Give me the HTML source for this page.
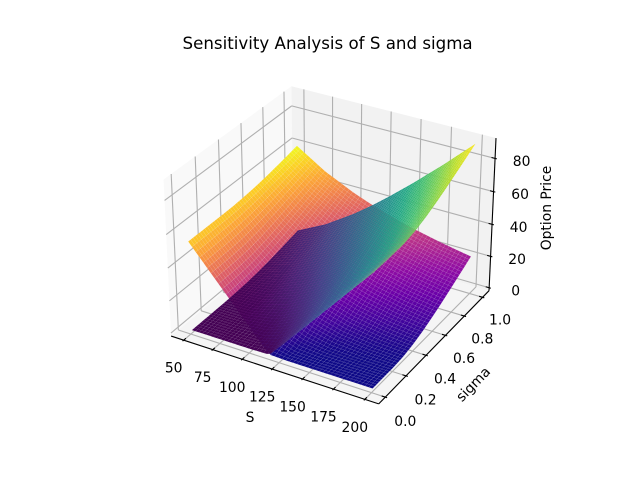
<!DOCTYPE html>
<html>
<head>
<meta charset="utf-8">
<style>
html,body{margin:0;padding:0;background:#fff;}
svg{display:block;}
text{font-family:"DejaVu Sans","Liberation Sans",sans-serif;fill:#000;}
</style>
</head>
<body>
<svg id="chart" xmlns="http://www.w3.org/2000/svg" width="640" height="480" viewBox="0 0 640 480">
<rect x="0" y="0" width="640" height="480" fill="#fff"/>
<g id="panes"></g>
<g id="grid"></g>
<g id="axes"></g>
<g id="put"></g>
<g id="call"></g>
<g id="labels"></g>
<text x="327.6" y="49" font-size="16.67" text-anchor="middle">Sensitivity Analysis of S and sigma</text>
<text x="250" y="422" font-size="13.89" text-anchor="middle">S</text>
<text x="473" y="389" font-size="13.89" text-anchor="middle" transform="rotate(-46 473 384)">sigma</text>
<text x="551" y="208" font-size="13.89" text-anchor="middle" transform="rotate(-90 551 208)">Option Price</text>
</svg>
<script>
const sValues = [50, 75, 100, 116, 130, 150, 175, 200];
const sigmaValues = [0.01, 0.1, 0.2, 0.3, 0.4, 0.5, 0.6, 0.7, 0.8, 0.9, 1.0];
const callValues = [
  [0, 0, 0, 0.3, 11.3, 27.7, 48.2, 68.6],
  [0, 0, 0.3, 3.7, 12.0, 27.7, 48.2, 68.6],
  [0, 0.1, 2.3, 7.5, 14.9, 28.7, 48.3, 68.7],
  [0, 0.7, 5.2, 11.3, 18.5, 31.2, 49.5, 69.1],
  [0.2, 2.1, 8.4, 15.0, 22.2, 34.5, 51.8, 70.6],
  [0.6, 3.9, 11.6, 18.7, 26.0, 38.0, 54.8, 72.9],
  [1.3, 6.1, 14.9, 22.3, 29.8, 41.8, 58.2, 75.9],
  [2.3, 8.4, 18.1, 25.9, 33.6, 45.5, 61.8, 79.2],
  [3.6, 10.8, 21.3, 29.5, 37.3, 49.3, 65.5, 82.8],
  [5.0, 13.2, 24.5, 32.9, 40.9, 53.1, 69.3, 86.5],
  [6.5, 15.7, 27.6, 36.3, 44.5, 56.8, 73.1, 90.2]
];
const putValues = [
  [54.2, 33.7, 13.3, 0.4, 0, 0, 0, 0],
  [54.2, 33.7, 13.5, 3.9, 0.7, 0, 0, 0],
  [54.2, 33.8, 15.6, 7.7, 3.6, 1.0, 0.2, 0],
  [54.2, 34.4, 18.5, 11.5, 7.2, 3.5, 1.4, 0.5],
  [54.3, 35.8, 21.7, 15.2, 10.9, 6.8, 3.7, 2.0],
  [54.8, 37.6, 24.9, 18.9, 14.7, 10.3, 6.7, 4.3],
  [55.5, 39.8, 28.2, 22.5, 18.5, 14.1, 10.1, 7.3],
  [56.5, 42.1, 31.4, 26.1, 22.3, 17.8, 13.7, 10.6],
  [57.8, 44.5, 34.6, 29.7, 26.0, 21.6, 17.4, 14.2],
  [59.2, 46.9, 37.8, 33.0, 29.6, 25.4, 21.2, 17.9],
  [60.7, 49.4, 40.9, 36.5, 33.2, 29.1, 25.0, 21.6]
];
const sTicks = [50, 75, 100, 125, 150, 175, 200];
const sigmaTicks = [0, 0.2, 0.4, 0.6, 0.8, 1.0];
const sigmaTickLabels = ['0.0', '0.2', '0.4', '0.6', '0.8', '1.0'];
const zTicks = [0, 20, 40, 60, 80];
const viridisStops = ['#440154','#482475','#414487','#355f8d','#2a788e','#21918c','#22a884','#44bf70','#7ad151','#bddf26','#fde725'];
const plasmaStops = ['#0d0887','#41049d','#6a00a8','#8f0da4','#b12a90','#cc4778','#e16462','#f2844b','#fca636','#fcce25','#f0f921'];

const NS = 'http://www.w3.org/2000/svg';
const MESH = 49;

function extent(a){
  return [Math.min.apply(null, a), Math.max.apply(null, a)];
}
function paddedLimits(lo, hi, margin){
  const d = (hi - lo) * margin;
  const a = lo - d, b = hi + d;
  const v = (b - a) / 48;
  return [a - v, b + v];
}
const sExt = extent(sValues);
const sigExt = extent(sigmaValues);
const zAll = extent([].concat.apply([], callValues.concat(putValues)));
const xLim = paddedLimits(sExt[0], sExt[1], 0.05);
const yLim = paddedLimits(sigExt[0], sigExt[1], 0.05);
const zLim = paddedLimits(zAll[0], zAll[1], 0);

function xNorm(v){ return (v - xLim[0]) / (xLim[1] - xLim[0]); }
function yNorm(v){ return (v - yLim[0]) / (yLim[1] - yLim[0]); }
function zNorm(v){ return (v - zLim[0]) / (zLim[1] - zLim[0]); }

const BOX = [1.19053, 1.19053, 0.89290];
const U = [0.866025, 0.5, 0];
const V = [-0.25, 0.433013, 0.866025];
const W = [0.433013, -0.75, 0.5];
const DIST = 10;
const PX_SCALE = 369.6 / 0.185;

function project(a, b, c){
  const d = [(a - 0.5) * BOX[0], (b - 0.5) * BOX[1], (c - 0.5) * BOX[2]];
  const xv = U[0]*d[0] + U[1]*d[1] + U[2]*d[2];
  const yv = V[0]*d[0] + V[1]*d[1] + V[2]*d[2];
  const wd = W[0]*d[0] + W[1]*d[1] + W[2]*d[2];
  const f = DIST - wd;
  return {
    x: 143.2 + (xv / f + 0.095) * PX_SCALE,
    y: 427.2 - (yv / f + 0.095) * PX_SCALE,
    depth: wd
  };
}

function line(parent, p, q, color, width, name){
  const el = document.createElementNS(NS, 'line');
  el.setAttribute('x1', p.x.toFixed(2));
  el.setAttribute('y1', p.y.toFixed(2));
  el.setAttribute('x2', q.x.toFixed(2));
  el.setAttribute('y2', q.y.toFixed(2));
  el.setAttribute('stroke', color);
  el.setAttribute('stroke-width', width);
  
  
  parent.appendChild(el);
}
function polyPath(pts){
  return 'M' + pts.map(function(p){ return p.x.toFixed(2) + ' ' + p.y.toFixed(2); }).join('L') + 'Z';
}

/* panes */
const panes = document.getElementById('panes');
const paneDefs = [
  ['left-wall-pane', '#f9f9f9', [[0,0,0],[0,1,0],[0,1,1],[0,0,1]]],
  ['back-wall-pane', '#f2f2f2', [[0,1,0],[1,1,0],[1,1,1],[0,1,1]]],
  ['floor-pane', '#f5f5f5', [[0,0,0],[1,0,0],[1,1,0],[0,1,0]]]
];
paneDefs.forEach(function(def){
  const el = document.createElementNS(NS, 'path');
  el.setAttribute('d', polyPath(def[2].map(function(c){ return project(c[0], c[1], c[2]); })));
  el.setAttribute('fill', def[1]);
  
  
  panes.appendChild(el);
});

/* grid */
const grid = document.getElementById('grid');
const GRID_COLOR = '#b0b0b0';
sTicks.forEach(function(t){
  const a = xNorm(t);
  line(grid, project(a,0,0), project(a,1,0), GRID_COLOR, 1.11, 'x-gridline-floor');
  line(grid, project(a,1,0), project(a,1,1), GRID_COLOR, 1.11, 'x-gridline-wall');
});
sigmaTicks.forEach(function(t){
  const b = yNorm(t);
  line(grid, project(1,b,0), project(0,b,0), GRID_COLOR, 1.11, 'y-gridline-floor');
  line(grid, project(0,b,0), project(0,b,1), GRID_COLOR, 1.11, 'y-gridline-wall');
});
zTicks.forEach(function(t){
  const c = zNorm(t);
  line(grid, project(0,0,c), project(0,1,c), GRID_COLOR, 1.11, 'z-gridline-left');
  line(grid, project(0,1,c), project(1,1,c), GRID_COLOR, 1.11, 'z-gridline-back');
});

/* axes and ticks */
const axes = document.getElementById('axes');
line(axes, project(0,0,0), project(1,0,0), '#000', 1.11, 'x-axis-line');
line(axes, project(1,0,0), project(1,1,0), '#000', 1.11, 'y-axis-line');
line(axes, project(1,1,0), project(1,1,1), '#000', 1.11, 'z-axis-line');
const T_IN = 0.2 / 12, T_OUT = 0.1 / 12;

const labels = document.getElementById('labels');
function label(x, y, str, name){
  const el = document.createElementNS(NS, 'text');
  el.setAttribute('x', x.toFixed(1));
  el.setAttribute('y', (y + 5).toFixed(1));
  el.setAttribute('font-size', '13.89');
  el.setAttribute('text-anchor', 'middle');
  
  
  el.textContent = str;
  labels.appendChild(el);
}
sTicks.forEach(function(t){
  const a = xNorm(t);
  line(axes, project(a,-T_OUT,0), project(a,T_IN,0), '#000', 1.11, 'x-tick');
  const p = project(a,0,0);
  label(p.x - 10, p.y + 27.5, String(t), 'x-tick-label');
});
sigmaTicks.forEach(function(t, i){
  const b = yNorm(t);
  line(axes, project(1-T_IN,b,0), project(1+T_OUT,b,0), '#000', 1.11, 'y-tick');
  const p = project(1,b,0);
  label(p.x + 20 - 2.5 * t, p.y + 24 - 2 * t, sigmaTickLabels[i], 'y-tick-label');
});
zTicks.forEach(function(t){
  const c = zNorm(t);
  line(axes, project(1-T_IN,1,c), project(1+T_OUT,1,c), '#000', 1.11, 'z-tick');
  const p = project(1,1,c);
  label(p.x + 26.5, p.y + 2.5, String(t), 'z-tick-label');
});

/* surfaces */
function hexToRgb(h){
  return [parseInt(h.substr(1,2),16), parseInt(h.substr(3,2),16), parseInt(h.substr(5,2),16)];
}
function cmapColor(stops, t){
  t = Math.max(0, Math.min(1, t));
  const f = t * (stops.length - 1);
  const i = Math.min(stops.length - 2, Math.floor(f));
  const u = f - i;
  const c0 = hexToRgb(stops[i]), c1 = hexToRgb(stops[i+1]);
  return 'rgb(' + Math.round(c0[0] + (c1[0]-c0[0])*u) + ',' +
                  Math.round(c0[1] + (c1[1]-c0[1])*u) + ',' +
                  Math.round(c0[2] + (c1[2]-c0[2])*u) + ')';
}
function bracket(axis, v){
  let i = 0;
  while (i < axis.length - 2 && v > axis[i+1]) i++;
  return [i, (v - axis[i]) / (axis[i+1] - axis[i])];
}
function sampleTable(table, s, sig){
  const bs = bracket(sValues, s), bg = bracket(sigmaValues, sig);
  const r0 = table[bg[0]], r1 = table[bg[0]+1];
  const top = r0[bs[0]] + (r0[bs[0]+1] - r0[bs[0]]) * bs[1];
  const bot = r1[bs[0]] + (r1[bs[0]+1] - r1[bs[0]]) * bs[1];
  return top + (bot - top) * bg[1];
}
function drawSurface(groupId, table, stops, quadName, seamOpacity){
  const group = document.getElementById(groupId);
  const ext = extent([].concat.apply([], table));
  const quads = [];
  function corner(i, j){
    const s = sExt[0] + (sExt[1]-sExt[0]) * i / MESH;
    const g = sigExt[0] + (sigExt[1]-sigExt[0]) * j / MESH;
    const z = sampleTable(table, s, g);
    const p = project(xNorm(s), yNorm(g), zNorm(z));
    p.z = z;
    return p;
  }
  for (let j = 0; j < MESH; j++){
    for (let i = 0; i < MESH; i++){
      const pts = [corner(i,j), corner(i+1,j), corner(i+1,j+1), corner(i,j+1)];
      const mz = (pts[0].z + pts[1].z + pts[2].z + pts[3].z) / 4;
      const md = (pts[0].depth + pts[1].depth + pts[2].depth + pts[3].depth) / 4;
      quads.push({pts: pts, mz: mz, md: md});
    }
  }
  quads.sort(function(a, b){ return a.md - b.md; });
  quads.forEach(function(q){
    const el = document.createElementNS(NS, 'path');
    el.setAttribute('d', polyPath(q.pts));
    el.setAttribute('fill', cmapColor(stops, (q.mz - ext[0]) / (ext[1] - ext[0])));
    el.setAttribute('stroke', '#fff');
    el.setAttribute('stroke-opacity', seamOpacity);
    el.setAttribute('stroke-width', '0.4');
    
    
    group.appendChild(el);
  });
}
drawSurface('put', putValues, plasmaStops, 'put-surface-quad', '0.14');
drawSurface('call', callValues, viridisStops, 'call-surface-quad', '0.04');
</script>
</body>
</html>
